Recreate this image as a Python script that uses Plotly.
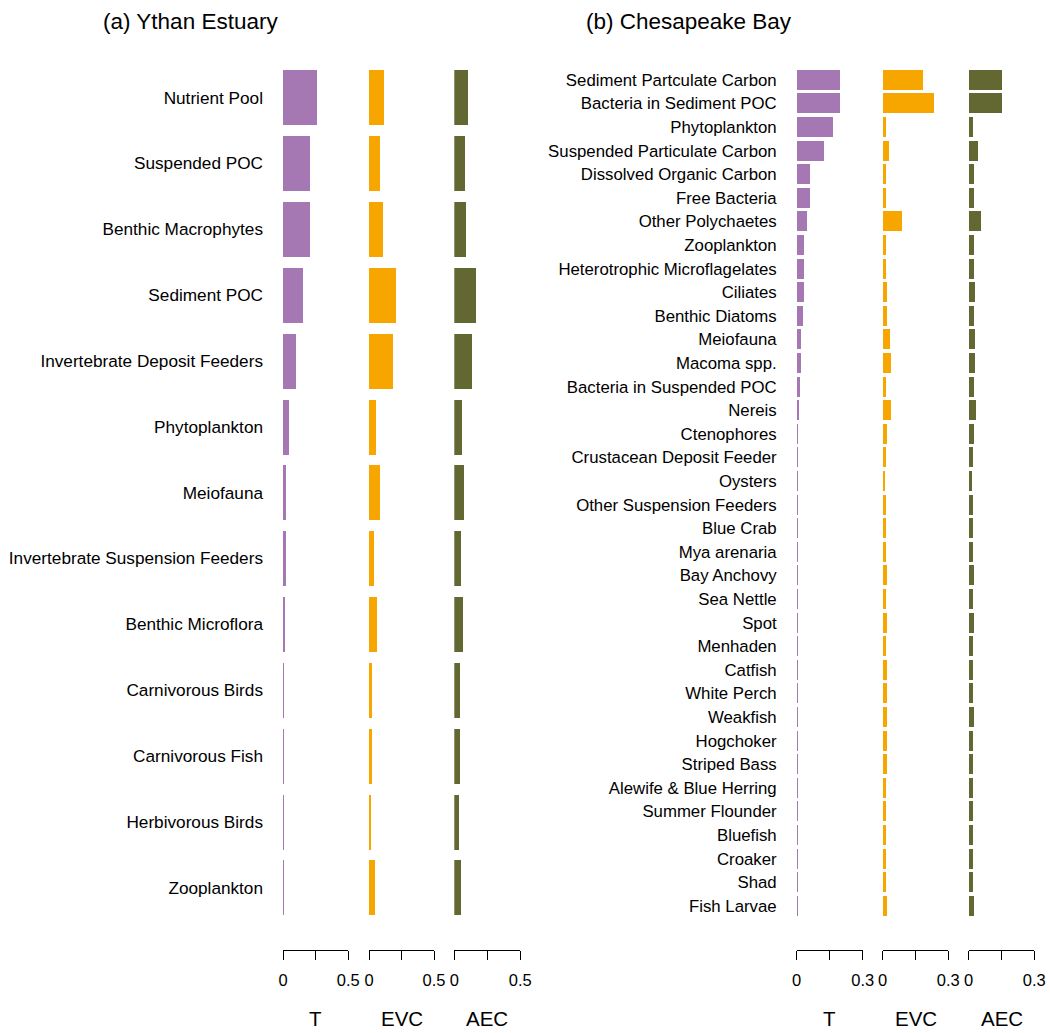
import plotly.graph_objects as go

# ---------------- data ----------------
ythan_labels = ["Nutrient Pool", "Suspended POC", "Benthic Macrophytes", "Sediment POC",
                "Invertebrate Deposit Feeders", "Phytoplankton", "Meiofauna",
                "Invertebrate Suspension Feeders", "Benthic Microflora", "Carnivorous Birds",
                "Carnivorous Fish", "Herbivorous Birds", "Zooplankton"]
ythan_T = [0.26, 0.206, 0.206, 0.153, 0.099, 0.046, 0.023, 0.023, 0.015, 0.003, 0.003, 0.003, 0.003]
ythan_EVC = [0.114, 0.082, 0.11, 0.206, 0.183, 0.053, 0.084, 0.038, 0.061, 0.023, 0.023, 0.015, 0.046]
ythan_AEC = [0.107, 0.084, 0.092, 0.168, 0.137, 0.061, 0.076, 0.053, 0.069, 0.046, 0.046, 0.038, 0.053]

ches_labels = ["Sediment Partculate Carbon", "Bacteria in Sediment POC", "Phytoplankton",
               "Suspended Particulate Carbon", "Dissolved Organic Carbon", "Free Bacteria",
               "Other Polychaetes", "Zooplankton", "Heterotrophic Microflagelates", "Ciliates",
               "Benthic Diatoms", "Meiofauna", "Macoma spp.", "Bacteria in Suspended POC",
               "Nereis", "Ctenophores", "Crustacean Deposit Feeder", "Oysters",
               "Other Suspension Feeders", "Blue Crab", "Mya arenaria", "Bay Anchovy",
               "Sea Nettle", "Spot", "Menhaden", "Catfish", "White Perch", "Weakfish",
               "Hogchoker", "Striped Bass", "Alewife & Blue Herring", "Summer Flounder",
               "Bluefish", "Croaker", "Shad", "Fish Larvae"]
ches_T = [0.195, 0.195, 0.164, 0.123, 0.059, 0.059, 0.045, 0.032, 0.032, 0.032,
          0.027, 0.018, 0.018, 0.014, 0.009, 0.004, 0.004, 0.004,
          0.004, 0.004, 0.004, 0.004, 0.004, 0.004, 0.004, 0.004, 0.004, 0.004,
          0.004, 0.004, 0.004, 0.004, 0.004, 0.004, 0.004, 0.004]
ches_EVC = [0.182, 0.232, 0.014, 0.027, 0.014, 0.014, 0.086, 0.014, 0.014, 0.018,
            0.018, 0.032, 0.036, 0.015, 0.036, 0.018, 0.014, 0.009,
            0.014, 0.012, 0.012, 0.018, 0.014, 0.018, 0.014, 0.016, 0.016, 0.018,
            0.016, 0.016, 0.014, 0.014, 0.014, 0.014, 0.014, 0.018]
ches_AEC = [0.15, 0.15, 0.02, 0.041, 0.023, 0.023, 0.055, 0.023, 0.023, 0.027,
            0.023, 0.027, 0.029, 0.023, 0.032, 0.023, 0.018, 0.014,
            0.02, 0.018, 0.018, 0.023, 0.018, 0.023, 0.018, 0.02, 0.02, 0.023,
            0.02, 0.02, 0.02, 0.02, 0.02, 0.02, 0.02, 0.023]

metric_names = ["T", "EVC", "AEC"]
ythan_ticks = [0, 0.25, 0.5]
ythan_ticktext = ["0", "", "0.5"]
ches_ticks = [0, 0.15, 0.3]
ches_ticktext = ["0", "", "0.3"]

# ---------------- layout helpers ----------------
W, H = 1050, 1033
COLORS = ["#A678B3", "#F7A600", "#636832"]
FONT = "Liberation Sans, Arial, Helvetica, sans-serif"

def px_x(p):
    return p / W

def px_y(p):
    return 1 - p / H

fig = go.Figure()

# x-axis domains in pixels (0 -> max)
ythan_xdom = [(283, 348.3), (369, 434), (454.3, 520.3)]
ches_xdom = [(796.7, 862.7), (882.7, 948.3), (968.7, 1034.3)]
axis_y_px = 950

panels = [
    (ythan_labels, [ythan_T, ythan_EVC, ythan_AEC], ythan_xdom, ythan_ticks, ythan_ticktext,
     0.5, (64.6, 920.4), 0.164, 17.2, 19),
    (ches_labels, [ches_T, ches_EVC, ches_AEC], ches_xdom, ches_ticks, ches_ticktext,
     0.3, (68.2, 917.8), 0.153, 16.8, 19),
]

layout_axes = {}
ax_i = 0
for p_i, (labels, series, xdoms, ticks, ticktext, xmax, ydom, gap, lab_size, standoff) in enumerate(panels):
    yname = "y" if p_i == 0 else "y2"
    ykey = "yaxis" if p_i == 0 else "yaxis2"
    first_x = None
    for m_i, (vals, dom) in enumerate(zip(series, xdoms)):
        ax_i += 1
        xname = "x" if ax_i == 1 else f"x{ax_i}"
        xkey = "xaxis" if ax_i == 1 else f"xaxis{ax_i}"
        if first_x is None:
            first_x = xname
        fig.add_trace(go.Bar(
            x=vals, y=labels, orientation="h", xaxis=xname, yaxis=yname,
            marker=dict(color=COLORS[m_i], line=dict(width=0)),
            showlegend=False, width=1 - gap,
        ))
        layout_axes[xkey] = dict(
            domain=[px_x(dom[0]), px_x(dom[1])], range=[0, xmax],
            anchor="free", position=px_y(axis_y_px), automargin=False,
            showgrid=False, zeroline=False, showline=True, linecolor="black", linewidth=1.3,
            ticks="outside", ticklen=9, tickwidth=1.3, tickcolor="black",
            tickmode="array", tickvals=ticks, ticktext=ticktext,
            tickfont=dict(family=FONT, size=16.5, color="black"),
            ticklabelstandoff=6,
        )
        fig.add_annotation(
            x=px_x((dom[0] + dom[1]) / 2), y=px_y(1018), xref="paper", yref="paper",
            text=metric_names[m_i], showarrow=False,
            font=dict(family=FONT, size=20.5, color="black"), xanchor="center", yanchor="middle",
        )
    layout_axes[ykey] = dict(
        domain=[px_y(ydom[1]), px_y(ydom[0])], anchor=first_x, automargin=False,
        type="category", categoryorder="array", categoryarray=labels,
        autorange="reversed", showgrid=False, zeroline=False, showline=False,
        ticks="", ticklabelstandoff=standoff,
        tickfont=dict(family=FONT, size=lab_size, color="black"),
    )

fig.update_layout(**layout_axes)

fig.add_annotation(x=px_x(190), y=px_y(22), xref="paper", yref="paper",
                   text="(a) Ythan Estuary", showarrow=False,
                   xanchor="center", yanchor="middle",
                   font=dict(family=FONT, size=22.5, color="black"))
fig.add_annotation(x=px_x(689), y=px_y(22), xref="paper", yref="paper",
                   text="(b) Chesapeake Bay", showarrow=False,
                   xanchor="center", yanchor="middle",
                   font=dict(family=FONT, size=22.5, color="black"))

fig.update_layout(
    width=W, height=H, margin=dict(l=0, r=0, t=0, b=0, autoexpand=False),
    plot_bgcolor="white", paper_bgcolor="white", bargap=0,
)

fig.write_html("out.html", config={"displayModeBar": False},
               post_script="document.body.style.margin='0';document.body.style.padding='0';")
